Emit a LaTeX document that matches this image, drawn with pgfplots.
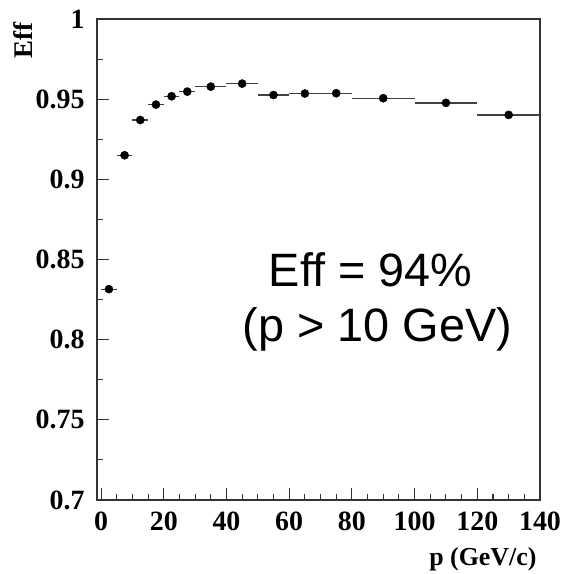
\documentclass[border=0pt]{standalone}
\usepackage{pgfplots}
\pgfplotsset{compat=1.18}
\usepackage{pgfplotstable}
\usepackage{fontspec}
\setmainfont{Liberation Serif}
\newfontfamily\helv{Liberation Sans}
\pgfplotstableread{
x y ex
2.5 0.8315 2.5
7.5 0.915 2.5
12.5 0.937 2.5
17.5 0.9466 2.5
22.5 0.9518 2.5
27.5 0.9547 2.5
35 0.9578 5
45 0.9597 5
55 0.9526 5
65 0.9535 5
75 0.9537 5
90 0.9506 10
110 0.9477 10
130 0.9402 10
}\datatable
\begin{document}
\begin{tikzpicture}
\useasboundingbox (-97bp,-74bp) rectangle (465bp,500bp);
\begin{axis}[
  scale only axis,
  width=443bp, height=481bp,
  xmin=-1.3, xmax=140,
  ymin=0.7, ymax=1,
  xtick={0,20,...,140},
  ytick={0.7,0.75,...,1.0},
  yticklabels={0.7,0.75,0.8,0.85,0.9,0.95,1},
  minor x tick num=3,
  minor y tick num=1,
  tick align=inside,
  xtick pos=bottom, ytick pos=left,
  major tick length=12bp,
  minor tick length=6bp,
  axis line style={line width=1.2bp, black!80},
  every tick/.style={line width=1.1bp, black!80},
  tick label style={font=\bfseries\fontsize{28}{28}\selectfont},
  /pgf/number format/assume math mode=true,
  xticklabel style={yshift=-8bp},
  yticklabel style={xshift=-9bp},
  clip=false,
]
\addplot[only marks, mark=*, mark size=4.1bp, black,
  error bars/.cd, x dir=both, x explicit, error mark=none,
  error bar style={line width=1.3bp, black!75}]
  table[x=x, y=y, x error=ex] {\datatable};
\node[anchor=base, font=\helv\fontsize{47}{47}\selectfont] at (axis cs:86,0.8329) {Eff = 94\%};
\node[anchor=base, font=\helv\fontsize{47}{47}\selectfont] at (axis cs:88.2,0.7986) {(p > 10 GeV)};
\node[anchor=base east, font=\bfseries\fontsize{26}{26}\selectfont] at (axis cs:140,0.6592) {p (GeV/c)};
\node[rotate=90, anchor=base east, font=\bfseries\fontsize{27}{27}\selectfont] at ([xshift=-64bp]axis cs:-1.3,1) {Eff};
\end{axis}
\end{tikzpicture}
\end{document}
